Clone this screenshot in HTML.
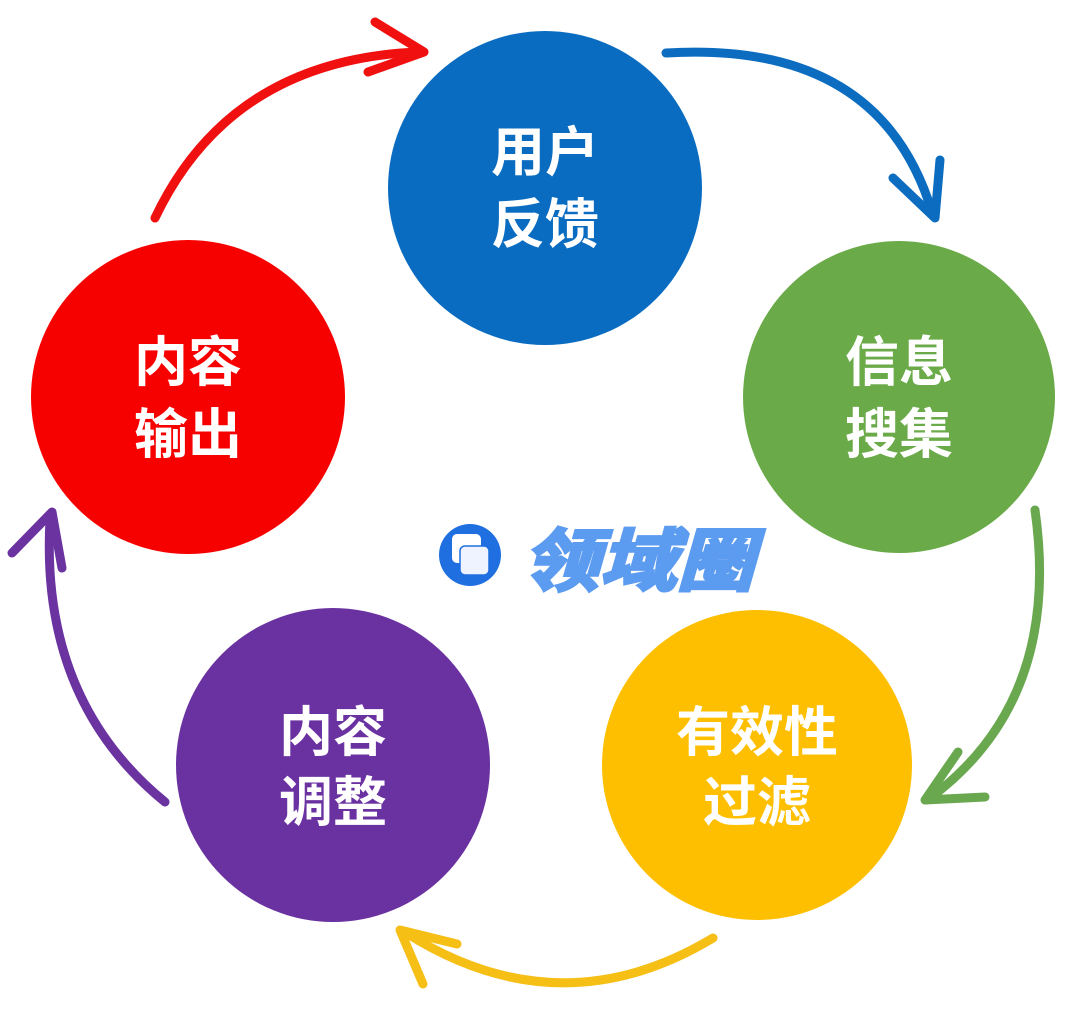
<!DOCTYPE html>
<html><head><meta charset="utf-8"><style>
html,body{margin:0;padding:0;background:#fff;width:1080px;height:1016px;overflow:hidden}
svg{display:block}
text{font-family:"Liberation Sans","Noto Sans CJK SC",sans-serif;font-weight:bold}
</style></head><body>
<svg width="1080" height="1016" viewBox="0 0 1080 1016" xmlns="http://www.w3.org/2000/svg">
<g fill="none" stroke-width="9" stroke-linecap="round" stroke-linejoin="round">
<g stroke="#f01010"><path d="M155,218 Q230,60 418,52"/><path d="M375,22 L424,52 L368,72"/></g>
<g stroke="#0b6cc0"><path d="M666,53 Q880,40 932,212"/><path d="M893,178 L935,218 L940,160"/></g>
<g stroke="#6aa84f"><path d="M1035,510 Q1062,700 930,798"/><path d="M958,752 L925,800 L985,797"/></g>
<g stroke="#f5bf16"><path d="M713,938 Q560,1030 406,933"/><path d="M457,944 L400,930 L423,984"/></g>
<g stroke="#6b33a0"><path d="M165,802 Q40,700 50,520"/><path d="M12,553 L52,512 L62,568"/></g>
</g>
<circle cx="545" cy="188" r="157" fill="#0a6cc0"/>
<circle cx="899" cy="397" r="156" fill="#6aaa48"/>
<circle cx="757" cy="765" r="155" fill="#fdbf00"/>
<circle cx="333" cy="765" r="157" fill="#6a31a0"/>
<circle cx="188" cy="397" r="157" fill="#f70000"/>
<g fill="#fff" font-size="54" text-anchor="middle">
<text x="545" y="171">用户</text><text x="545" y="243">反馈</text>
<text x="899" y="381">信息</text><text x="899" y="453">搜集</text>
<text x="757" y="751">有效性</text><text x="757" y="821">过滤</text>
<text x="333" y="751">内容</text><text x="333" y="821">调整</text>
<text x="188" y="381">内容</text><text x="188" y="453">输出</text>
</g>
<circle cx="470" cy="555" r="31" fill="#1f6fe0"/>
<rect x="452" y="534" width="29" height="29" rx="5" fill="#fff"/>
<rect x="460" y="546" width="29" height="29" rx="5" fill="#eef3ff" stroke="#1f6fe0" stroke-width="1.5"/>
<text x="522" y="585" font-size="68" fill="#5b9bf0" stroke="#5b9bf0" stroke-width="3" font-style="italic" textLength="232" lengthAdjust="spacingAndGlyphs">领域圈</text>
</svg>
</body></html>
